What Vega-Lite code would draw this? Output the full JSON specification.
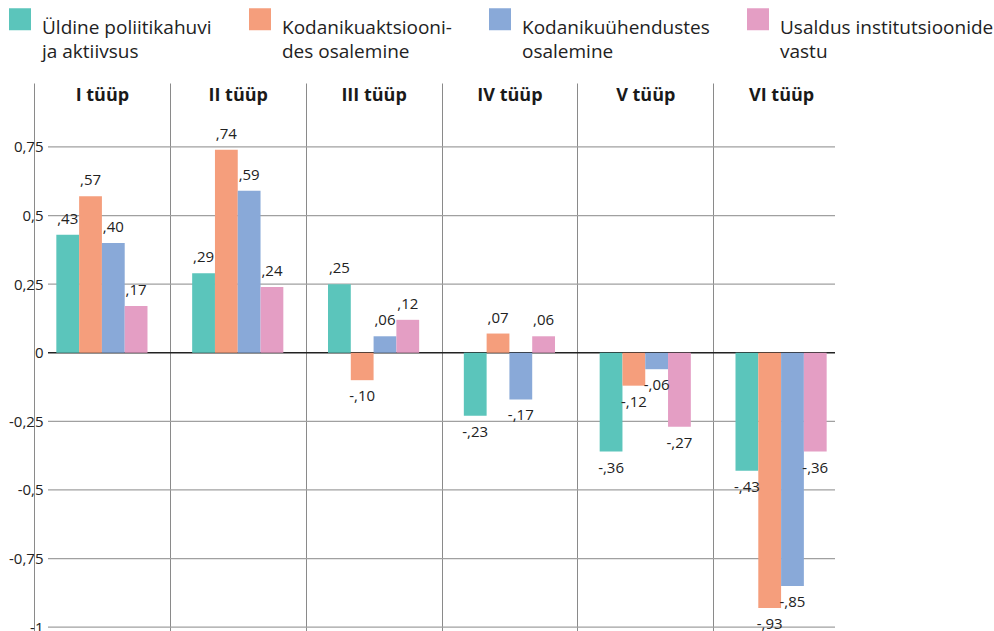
{
  "$schema": "https://vega.github.io/schema/vega-lite/v6.json",
  "width": 787,
  "height": 548,
  "autosize": {"type": "none"},
  "padding": {"left": 48, "top": 83, "right": 159, "bottom": 0},
  "background": "white",
  "config": {
    "font": "Open Sans",
    "view": {"stroke": null},
    "style": {"guide-label": {"lineHeight": 23.5}}
  },
  "datasets": {
    "bars": [
      {"typ": "I tüüp", "series": "Üldine poliitikahuvi ja aktiivsus", "value": 0.43, "label": ",43"},
      {"typ": "I tüüp", "series": "Kodanikuaktsioonides osalemine", "value": 0.57, "label": ",57"},
      {"typ": "I tüüp", "series": "Kodanikuühendustes osalemine", "value": 0.40, "label": ",40"},
      {"typ": "I tüüp", "series": "Usaldus institutsioonide vastu", "value": 0.17, "label": ",17"},
      {"typ": "II tüüp", "series": "Üldine poliitikahuvi ja aktiivsus", "value": 0.29, "label": ",29"},
      {"typ": "II tüüp", "series": "Kodanikuaktsioonides osalemine", "value": 0.74, "label": ",74"},
      {"typ": "II tüüp", "series": "Kodanikuühendustes osalemine", "value": 0.59, "label": ",59"},
      {"typ": "II tüüp", "series": "Usaldus institutsioonide vastu", "value": 0.24, "label": ",24"},
      {"typ": "III tüüp", "series": "Üldine poliitikahuvi ja aktiivsus", "value": 0.25, "label": ",25"},
      {"typ": "III tüüp", "series": "Kodanikuaktsioonides osalemine", "value": -0.10, "label": "-,10"},
      {"typ": "III tüüp", "series": "Kodanikuühendustes osalemine", "value": 0.06, "label": ",06"},
      {"typ": "III tüüp", "series": "Usaldus institutsioonide vastu", "value": 0.12, "label": ",12"},
      {"typ": "IV tüüp", "series": "Üldine poliitikahuvi ja aktiivsus", "value": -0.23, "label": "-,23"},
      {"typ": "IV tüüp", "series": "Kodanikuaktsioonides osalemine", "value": 0.07, "label": ",07"},
      {"typ": "IV tüüp", "series": "Kodanikuühendustes osalemine", "value": -0.17, "label": "-,17"},
      {"typ": "IV tüüp", "series": "Usaldus institutsioonide vastu", "value": 0.06, "label": ",06"},
      {"typ": "V tüüp", "series": "Üldine poliitikahuvi ja aktiivsus", "value": -0.36, "label": "-,36"},
      {"typ": "V tüüp", "series": "Kodanikuaktsioonides osalemine", "value": -0.12, "label": "-,12"},
      {"typ": "V tüüp", "series": "Kodanikuühendustes osalemine", "value": -0.06, "label": "-,06"},
      {"typ": "V tüüp", "series": "Usaldus institutsioonide vastu", "value": -0.27, "label": "-,27"},
      {"typ": "VI tüüp", "series": "Üldine poliitikahuvi ja aktiivsus", "value": -0.43, "label": "-,43"},
      {"typ": "VI tüüp", "series": "Kodanikuaktsioonides osalemine", "value": -0.93, "label": "-,93"},
      {"typ": "VI tüüp", "series": "Kodanikuühendustes osalemine", "value": -0.85, "label": "-,85"},
      {"typ": "VI tüüp", "series": "Usaldus institutsioonide vastu", "value": -0.36, "label": "-,36"}
    ],
    "gridlines": [
      {"value": -1}, {"value": -0.75}, {"value": -0.5}, {"value": -0.25},
      {"value": 0.25}, {"value": 0.5}, {"value": 0.75}, {"value": 0}
    ]
  },
  "layer": [
    {
      "data": {"name": "gridlines"},
      "mark": {"type": "rule"},
      "encoding": {
        "y": {
          "field": "value",
          "type": "quantitative",
          "scale": {"domain": [-1.014, 0.983], "nice": false, "zero": false},
          "axis": {
            "title": null,
            "values": [-1, -0.75, -0.5, -0.25, 0, 0.25, 0.5, 0.75],
            "labelExpr": "replace(toString(datum.value), '.', ',')",
            "domain": false,
            "ticks": false,
            "grid": false,
            "labelPadding": 5,
            "labelFontSize": 15,
            "labelColor": "#222222"
          }
        },
        "color": {"condition": {"test": "datum.value === 0", "value": "#222222"}, "value": "#a0a0a0"},
        "strokeWidth": {"condition": {"test": "datum.value === 0", "value": 1.6}, "value": 1.2}
      }
    },
    {
      "data": {"name": "bars"},
      "mark": {"type": "bar"},
      "encoding": {
        "x": {
          "field": "typ",
          "type": "nominal",
          "sort": ["I tüüp", "II tüüp", "III tüüp", "IV tüüp", "V tüüp", "VI tüüp"],
          "scale": {"range": [-14, 801], "paddingInner": 0, "paddingOuter": 0},
          "axis": {
            "orient": "top",
            "title": null,
            "domain": false,
            "ticks": false,
            "labelPadding": -21,
            "labelFontSize": 18,
            "labelFontWeight": "bold",
            "labelColor": "#1a1a1a",
            "labelAngle": 0,
            "grid": true,
            "tickBand": "extent",
            "tickExtra": false,
            "gridColor": {"condition": {"test": "datum.value === 'VI tüüp'", "value": "transparent"}, "value": "#8a8a8a"},
            "gridWidth": 1
          }
        },
        "xOffset": {
          "field": "series",
          "type": "nominal",
          "sort": ["Üldine poliitikahuvi ja aktiivsus", "Kodanikuaktsioonides osalemine", "Kodanikuühendustes osalemine", "Usaldus institutsioonide vastu"],
          "scale": {"paddingInner": 0, "paddingOuter": 0.98}
        },
        "y": {"field": "value", "type": "quantitative"},
        "color": {
          "field": "series",
          "type": "nominal",
          "sort": ["Üldine poliitikahuvi ja aktiivsus", "Kodanikuaktsioonides osalemine", "Kodanikuühendustes osalemine", "Usaldus institutsioonide vastu"],
          "scale": {
            "domain": ["Üldine poliitikahuvi ja aktiivsus", "Kodanikuaktsioonides osalemine", "Kodanikuühendustes osalemine", "Usaldus institutsioonide vastu"],
            "range": ["#5BC5BB", "#F59E7C", "#89A9D8", "#E49EC4"]
          },
          "legend": {
            "orient": "none",
            "legendX": -39,
            "legendY": -75,
            "direction": "horizontal",
            "columns": 4,
            "title": null,
            "symbolType": "square",
            "symbolSize": 484,
            "symbolStrokeWidth": 0,
            "symbolOpacity": 1,
            "labelFontSize": 19,
            "labelColor": "#222222",
            "labelLimit": 400,
            "labelOffset": 11,
            "columnPadding": 37,
            "labelBaseline": "top",
            "labelExpr": "datum.label == 'Üldine poliitikahuvi ja aktiivsus' ? ['Üldine poliitikahuvi', 'ja aktiivsus'] : datum.label == 'Kodanikuaktsioonides osalemine' ? ['Kodanikuaktsiooni-', 'des osalemine'] : datum.label == 'Kodanikuühendustes osalemine' ? ['Kodanikuühendustes', 'osalemine'] : ['Usaldus institutsioonide', 'vastu']"
          }
        }
      }
    },
    {
      "data": {"name": "bars"},
      "transform": [{"filter": "datum.value >= 0"}],
      "mark": {"type": "text", "baseline": "middle", "dy": -16, "fontSize": 15, "color": "#222222"},
      "encoding": {
        "x": {"field": "typ", "type": "nominal", "sort": ["I tüüp", "II tüüp", "III tüüp", "IV tüüp", "V tüüp", "VI tüüp"]},
        "xOffset": {"field": "series", "type": "nominal", "sort": ["Üldine poliitikahuvi ja aktiivsus", "Kodanikuaktsioonides osalemine", "Kodanikuühendustes osalemine", "Usaldus institutsioonide vastu"]},
        "y": {"field": "value", "type": "quantitative"},
        "text": {"field": "label"}
      }
    },
    {
      "data": {"name": "bars"},
      "transform": [{"filter": "datum.value < 0"}],
      "mark": {"type": "text", "baseline": "middle", "dy": 16, "fontSize": 15, "color": "#222222"},
      "encoding": {
        "x": {"field": "typ", "type": "nominal", "sort": ["I tüüp", "II tüüp", "III tüüp", "IV tüüp", "V tüüp", "VI tüüp"]},
        "xOffset": {"field": "series", "type": "nominal", "sort": ["Üldine poliitikahuvi ja aktiivsus", "Kodanikuaktsioonides osalemine", "Kodanikuühendustes osalemine", "Usaldus institutsioonide vastu"]},
        "y": {"field": "value", "type": "quantitative"},
        "text": {"field": "label"}
      }
    }
  ]
}
